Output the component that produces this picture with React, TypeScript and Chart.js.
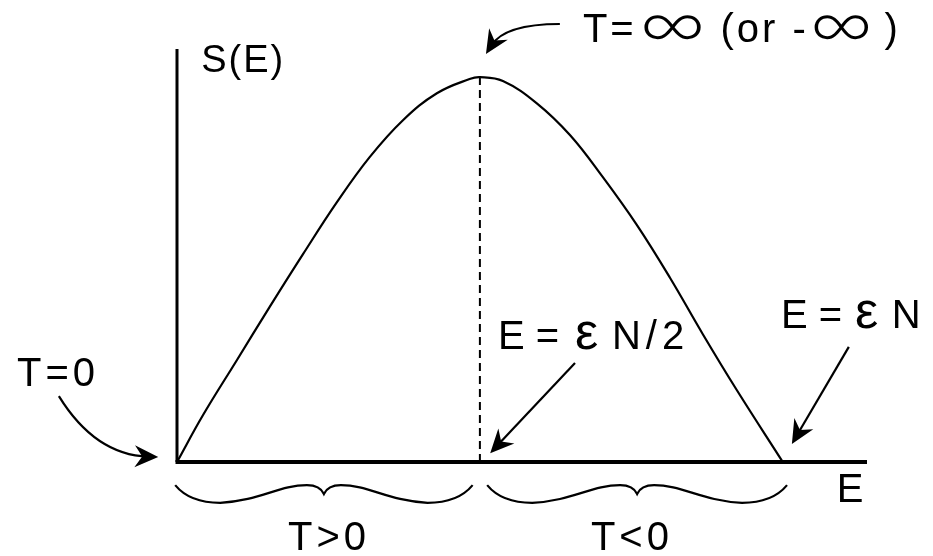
import React, { useEffect, useRef } from "react";
import { Chart, registerables } from "chart.js";

Chart.register(...registerables);

// Energy in units of εN, entropy normalised to its maximum
const energy = [0, 0.043, 0.099, 0.153, 0.208, 0.264, 0.318, 0.373, 0.429, 0.483, 0.5, 0.538, 0.594, 0.649, 0.703, 0.759, 0.814, 0.868, 0.924, 1.0];
const entropy = [0, 0.122, 0.265, 0.403, 0.54, 0.675, 0.792, 0.888, 0.958, 0.995, 1.0, 0.99, 0.932, 0.849, 0.74, 0.616, 0.478, 0.332, 0.187, 0];
const midEnergy = [0.5, 0.5];
const midEntropy = [0, 1.0];

const X_MIN = 0;
const X_MAX = 1.139;
const Y_MIN = 0;
const Y_MAX = 1.073;

const labelSE = "S(E)";
const labelT0 = "T=0";
const labelTinfA = "T=";
const labelTinfB = "(or -";
const labelTinfC = ")";
const labelInf = "∞";
const labelEq = "E =";
const labelEps = "ε";
const labelHalfTail = "N/2";
const labelFullTail = "N";
const labelE = "E";
const labelPos = "T>0";
const labelNeg = "T<0";

const FONT = '"Liberation Sans", Arial, Helvetica, sans-serif';

const annotations = {
  id: "annotations",
  beforeDatasetsDraw(chart: any) {
    const ctx = chart.ctx as CanvasRenderingContext2D;
    const xs = chart.scales.x;
    const ys = chart.scales.y;
    const px = (v: number) => xs.getPixelForValue(v);
    const py = (v: number) => ys.getPixelForValue(v);
    ctx.save();
    ctx.strokeStyle = "#000";
    ctx.lineCap = "butt";
    ctx.lineWidth = 3;
    ctx.beginPath();
    ctx.moveTo(px(0), py(Y_MAX));
    ctx.lineTo(px(0), py(0));
    ctx.stroke();
    ctx.lineWidth = 4;
    ctx.beginPath();
    ctx.moveTo(px(0) - 1.5, py(0));
    ctx.lineTo(px(X_MAX), py(0));
    ctx.stroke();
    ctx.restore();
  },
  afterDraw(chart: any) {
    const ctx = chart.ctx as CanvasRenderingContext2D;
    const xs = chart.scales.x;
    const ys = chart.scales.y;
    const px = (v: number) => xs.getPixelForValue(v);
    const py = (v: number) => ys.getPixelForValue(v);
    ctx.save();
    ctx.fillStyle = "#000";
    ctx.strokeStyle = "#000";

    const text = (s: string, x: number, y: number, size: number, spacing: number, align: CanvasTextAlign = "left") => {
      ctx.font = `${size}px ${FONT}`;
      (ctx as any).letterSpacing = `${spacing}px`;
      ctx.textAlign = align;
      ctx.textBaseline = "alphabetic";
      ctx.fillText(s, px(x), py(y));
    };

    const infinity = (x0: number, x1: number, yTop: number, yBot: number) => {
      ctx.save();
      ctx.font = `300 40px Lato, Inter, "Open Sans", "DejaVu Sans", ${FONT}`;
      (ctx as any).letterSpacing = "0px";
      ctx.textAlign = "left";
      ctx.textBaseline = "alphabetic";
      const m = ctx.measureText(labelInf);
      const gw = m.actualBoundingBoxLeft + m.actualBoundingBoxRight;
      const gh = m.actualBoundingBoxAscent + m.actualBoundingBoxDescent;
      const bx = px(x0);
      const by = py(yTop);
      const bw = px(x1) - bx;
      const bh = py(yBot) - by;
      ctx.translate(bx, by);
      ctx.scale(bw / gw, bh / gh);
      ctx.fillText(labelInf, m.actualBoundingBoxLeft, m.actualBoundingBoxAscent);
      ctx.restore();
    };

    const head = (tx: number, ty: number, ang: number) => {
      const len = 26;
      const half = (25 * Math.PI) / 180;
      const notch = 16;
      ctx.beginPath();
      ctx.moveTo(tx, ty);
      ctx.lineTo(tx - len * Math.cos(ang - half), ty - len * Math.sin(ang - half));
      ctx.lineTo(tx - notch * Math.cos(ang), ty - notch * Math.sin(ang));
      ctx.lineTo(tx - len * Math.cos(ang + half), ty - len * Math.sin(ang + half));
      ctx.closePath();
      ctx.fill();
    };

    const curveArrow = (x0: number, y0: number, cx: number, cy: number, x1: number, y1: number) => {
      const a = [px(x0), py(y0)];
      const c = [px(cx), py(cy)];
      const b = [px(x1), py(y1)];
      const ang = Math.atan2(b[1] - c[1], b[0] - c[0]);
      ctx.lineWidth = 2.2;
      ctx.beginPath();
      ctx.moveTo(a[0], a[1]);
      ctx.quadraticCurveTo(c[0], c[1], b[0] - 10 * Math.cos(ang), b[1] - 10 * Math.sin(ang));
      ctx.stroke();
      head(b[0], b[1], ang);
    };

    const lineArrow = (x0: number, y0: number, x1: number, y1: number) => {
      const a = [px(x0), py(y0)];
      const b = [px(x1), py(y1)];
      const ang = Math.atan2(b[1] - a[1], b[0] - a[0]);
      ctx.lineWidth = 2.2;
      ctx.beginPath();
      ctx.moveTo(a[0], a[1]);
      ctx.lineTo(b[0] - 10 * Math.cos(ang), b[1] - 10 * Math.sin(ang));
      ctx.stroke();
      head(b[0], b[1], ang);
    };

    const brace = (xa: number, xb: number, yTop: number, yBot: number, yCusp: number) => {
      const a = px(xa);
      const b = px(xb);
      const m = (a + b) / 2;
      const t = py(yTop);
      const d = py(yBot);
      const k = py(yCusp);
      ctx.lineWidth = 2.2;
      ctx.beginPath();
      ctx.moveTo(a, t);
      ctx.bezierCurveTo(a + 8, d - 8, a + 22, d, a + 45, d);
      ctx.bezierCurveTo(a + 85, d - 2, m - 45, t, m - 17, t);
      ctx.quadraticCurveTo(m - 4, t, m, k);
      ctx.quadraticCurveTo(m + 4, t, m + 17, t);
      ctx.bezierCurveTo(m + 45, t, b - 85, d - 2, b - 45, d);
      ctx.bezierCurveTo(b - 22, d, b - 8, d - 8, b, t);
      ctx.stroke();
    };

    // labels
    text(labelSE, 0.04, 1.013, 38, 2);
    text(labelT0, -0.264, 0.197, 40, 4);
    text(labelTinfA, 0.67, 1.091, 40, 3);
    infinity(0.769, 0.868, 1.161, 1.096);
    text(labelTinfB, 0.897, 1.091, 40, 3);
    infinity(1.05, 1.144, 1.161, 1.096);
    text(labelTinfC, 1.168, 1.091, 40, 0);

    text(labelEq, 0.53, 0.294, 40, 0);
    text(labelEps, 0.657, 0.294, 52, 0);
    text(labelHalfTail, 0.718, 0.294, 40, 5);

    text(labelEq, 0.997, 0.348, 40, 0);
    text(labelEps, 1.119, 0.348, 52, 0);
    text(labelFullTail, 1.18, 0.348, 40, 0);

    text(labelE, 1.089, -0.104, 40, 0);
    text(labelPos, 0.251, -0.229, 40, 4, "center");
    text(labelNeg, 0.751, -0.229, 40, 4, "center");

    // arrows
    curveArrow(-0.195, 0.171, -0.135, 0.018, -0.031, 0.013);
    curveArrow(0.632, 1.138, 0.541, 1.138, 0.51, 1.06);
    lineArrow(0.657, 0.257, 0.517, 0.023);
    lineArrow(1.109, 0.299, 1.015, 0.047);

    // braces
    brace(-0.003, 0.488, -0.06, -0.106, -0.083);
    brace(0.512, 1.007, -0.06, -0.106, -0.083);

    ctx.restore();
  },
};

export default function App() {
  const ref = useRef<HTMLCanvasElement | null>(null);
  useEffect(() => {
    if (!ref.current) return;
    const chart = new Chart(ref.current, {
      type: "scatter",
      data: {
        datasets: [
          {
            data: energy.map((e, i) => ({ x: e, y: entropy[i] })),
            showLine: true,
            borderColor: "#000",
            borderWidth: 2.2,
            pointRadius: 0,
            tension: 0.4,
            fill: false,
            clip: false,
          } as any,
          {
            data: midEnergy.map((e, i) => ({ x: e, y: midEntropy[i] })),
            showLine: true,
            borderColor: "#000",
            borderWidth: 2,
            borderDash: [8, 5],
            pointRadius: 0,
            tension: 0,
            fill: false,
            clip: false,
          } as any,
        ],
      },
      options: {
        responsive: false,
        animation: false,
        devicePixelRatio: 1,
        layout: { padding: { left: 177, right: 66, top: 49, bottom: 94 } },
        scales: {
          x: { type: "linear", min: X_MIN, max: X_MAX, display: false },
          y: { type: "linear", min: Y_MIN, max: Y_MAX, display: false },
        },
        plugins: { legend: { display: false }, tooltip: { enabled: false } },
        events: [],
      },
      plugins: [annotations],
    });
    return () => chart.destroy();
  }, []);
  return (
    <div style={{ position: "absolute", left: 0, top: 0, width: 933, height: 556, background: "#fff" }}>
      <canvas ref={ref} width={933} height={556} style={{ display: "block" }} />
    </div>
  );
}
